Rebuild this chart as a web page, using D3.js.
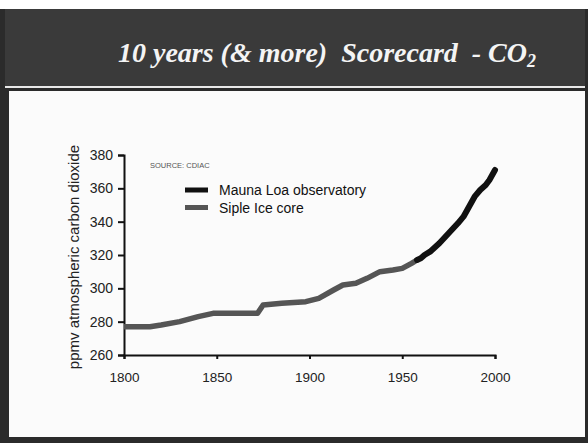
<!DOCTYPE html>
<html>
<head>
<meta charset="utf-8">
<script src="https://cdn.jsdelivr.net/npm/d3@7"></script>
<style>
  html, body { margin: 0; padding: 0; background: #fff; }
  svg { display: block; }
</style>
</head>
<body>
<svg id="chart" width="588" height="443"></svg>
<script>
// Siple ice core record (ppmv)
const sipleYears  = [1800, 1814, 1820, 1830, 1840, 1848, 1860, 1872, 1875, 1885, 1898, 1905, 1913, 1918, 1925, 1931, 1938, 1945, 1950, 1955, 1958];
const sipleValues = [277, 277, 278, 280, 283, 285, 285, 285, 290, 291, 292, 294, 299, 302, 303, 306, 310, 311, 312, 315, 317];

// Mauna Loa observatory record (ppmv)
const maunaYears  = [1958, 1960, 1962, 1965, 1970, 1975, 1980, 1983, 1986, 1989, 1992, 1995, 1997, 2000];
const maunaValues = [317, 318, 320, 322, 327, 333, 339, 343, 349, 355, 359, 362, 365, 371];

const xTicks = [1800, 1850, 1900, 1950, 2000];
const yTicks = [260, 280, 300, 320, 340, 360, 380];

const legendLabels = ["Mauna Loa observatory", "Siple Ice core"];
const legendColors = ["#111", "#555"];

const svg = d3.select("#chart");
const W = 588, H = 443;

// slide frame
svg.append("rect").attr("x", 0).attr("y", 0).attr("width", W).attr("height", H).attr("fill", "#fff");
svg.append("rect").attr("x", 0).attr("y", 9).attr("width", W).attr("height", H - 9).attr("fill", "#2b2b2b");
svg.append("rect").attr("x", 5).attr("y", 9).attr("width", W - 8).attr("height", 77).attr("fill", "#3a3a3a");
svg.append("rect").attr("x", 5).attr("y", 86).attr("width", W - 8).attr("height", 2).attr("fill", "#e8e8e8");
svg.append("rect").attr("x", 9).attr("y", 91).attr("width", 576).attr("height", 346).attr("fill", "#fbfbfb");

// title
const title = svg.append("text")
  .attr("x", 327).attr("y", 62)
  .attr("text-anchor", "middle")
  .attr("fill", "#f4f4f4")
  .style("font-family", "'Liberation Serif', 'Times New Roman', serif")
  .style("font-weight", "bold")
  .style("font-style", "italic")
  .style("font-size", "28px")
  .attr("xml:space", "preserve");
title.append("tspan").text("10 years (& more)  Scorecard  - CO");
title.append("tspan").attr("dy", 5).style("font-size", "18px").text("2");

// scales
const x = d3.scaleLinear().domain([1800, 2000]).range([124, 495]);
const y = d3.scaleLinear().domain([260, 380]).range([355, 155]);

const tickFont = "'Liberation Sans', Arial, sans-serif";

// y axis
const yAxis = svg.append("g").attr("transform", `translate(${x(1800)},0)`)
  .call(d3.axisLeft(y).tickValues(yTicks).tickSize(6).tickPadding(5));
yAxis.select(".domain").attr("stroke", "#111").attr("stroke-width", 2);
yAxis.selectAll(".tick line").attr("stroke", "#111").attr("stroke-width", 2);
yAxis.selectAll(".tick text").attr("fill", "#222")
  .style("font-family", tickFont).style("font-size", "14px");

// x axis
const xAxis = svg.append("g").attr("transform", `translate(0,${y(260)})`)
  .call(d3.axisBottom(x).tickValues(xTicks).tickFormat(d3.format("d")).tickSize(4).tickPadding(13));
xAxis.select(".domain").attr("stroke", "#111").attr("stroke-width", 2);
xAxis.selectAll(".tick line").attr("stroke", "#111").attr("stroke-width", 2);
xAxis.selectAll(".tick text").attr("fill", "#222")
  .style("font-family", tickFont).style("font-size", "13.5px");

// y axis title
svg.append("text")
  .attr("transform", `translate(79,${257}) rotate(-90)`)
  .attr("text-anchor", "middle")
  .attr("fill", "#222")
  .style("font-family", tickFont)
  .style("font-size", "15px")
  .text("ppmv atmospheric carbon dioxide");

// series lines
const line = d3.line().x(d => x(d[0])).y(d => y(d[1])).curve(d3.curveLinear);

svg.append("path")
  .datum(sipleYears.map((yr, i) => [yr, sipleValues[i]]))
  .attr("d", line)
  .attr("fill", "none")
  .attr("stroke", legendColors[1])
  .attr("stroke-width", 5.5)
  .attr("stroke-linejoin", "round");

svg.append("path")
  .datum(maunaYears.map((yr, i) => [yr, maunaValues[i]]))
  .attr("d", line)
  .attr("fill", "none")
  .attr("stroke", legendColors[0])
  .attr("stroke-width", 6)
  .attr("stroke-linejoin", "round")
  .attr("stroke-linecap", "round");

// source note
svg.append("text")
  .attr("x", 150).attr("y", 168)
  .attr("fill", "#555")
  .style("font-family", tickFont)
  .style("font-size", "7.5px")
  .text("SOURCE: CDIAC");

// legend
const legend = svg.append("g");
legendLabels.forEach((label, i) => {
  const ly = 190 + i * 17.5;
  legend.append("line")
    .attr("x1", 185).attr("x2", 208).attr("y1", ly).attr("y2", ly)
    .attr("stroke", legendColors[i]).attr("stroke-width", 5);
  legend.append("text")
    .attr("x", 219).attr("y", ly + 5)
    .attr("fill", "#111")
    .style("font-family", tickFont)
    .style("font-size", "14px")
    .text(label);
});
</script>
</body>
</html>
